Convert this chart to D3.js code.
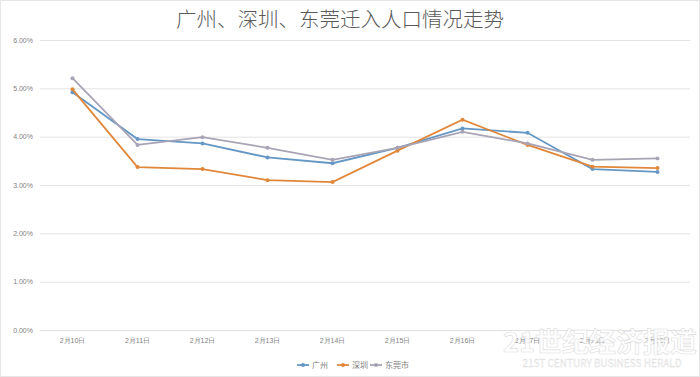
<!DOCTYPE html>
<html><head><meta charset="utf-8">
<script src="https://cdn.jsdelivr.net/npm/d3@7"></script>
<style>body{margin:0;background:#fff;}svg{display:block;font-family:"Noto Sans CJK SC","Noto Sans",sans-serif;}</style>
</head><body><svg id="c" width="700" height="377"></svg>
<script>
const categories = ["2月10日","2月11日","2月12日","2月13日","2月14日","2月15日","2月16日","2月17日","2月18日","2月19日"];
const guangzhou = [4.92,3.95,3.86,3.57,3.45,3.77,4.17,4.08,3.33,3.27];
const shenzhen  = [4.98,3.37,3.33,3.10,3.06,3.71,4.35,3.83,3.38,3.35];
const dongguan  = [5.21,3.83,3.99,3.77,3.52,3.77,4.10,3.86,3.52,3.55];
const seriesNames = ["广州","深圳","东莞市"];
const yTicks = [0,1,2,3,4,5,6];
const title = "广州、深圳、东莞迁入人口情况走势";

const colors = ["#6497c4","#e0873a","#a9a3b6"];
const series = [guangzhou, shenzhen, dongguan];
const svg = d3.select("#c");
const x = d3.scaleBand().domain(categories).range([40,690]);
const y = d3.scaleLinear().domain([0,6]).range([330,40]);

svg.append("rect").attr("x",0.5).attr("y",0.5).attr("width",699).attr("height",376).attr("fill","none").attr("stroke","#e6e6e6");

svg.append("text").attr("x",340).attr("y",27).attr("text-anchor","middle")
  .attr("font-size",20.5).attr("font-weight",300).attr("fill","#5a5a5a").text(title);

const yAxis = d3.axisLeft(y).tickValues(yTicks).tickFormat(d=>d.toFixed(2)+"%").tickSize(-650).tickPadding(7);
const gy = svg.append("g").attr("transform","translate(40,0)").call(yAxis);
gy.select(".domain").remove();
gy.selectAll(".tick line").attr("stroke","#e3e3e3");
gy.selectAll(".tick text").attr("font-size",7).attr("fill","#7f7f7f");

const xAxis = d3.axisBottom(x).tickSize(0).tickPadding(8);
const gx = svg.append("g").attr("transform","translate(0,330)").call(xAxis);
gx.select(".domain").attr("stroke","#e0e0e0");
gx.selectAll(".tick text").attr("font-size",7).attr("fill","#7f7f7f");

const line = d3.line().x((d,i)=>x(categories[i])+x.bandwidth()/2).y(d=>y(d));
series.forEach((s,k)=>{
  svg.append("path").datum(s).attr("d",line).attr("fill","none")
    .attr("stroke",colors[k]).attr("stroke-width",1.8);
  svg.append("g").selectAll("circle").data(s).join("circle")
    .attr("cx",(d,i)=>x(categories[i])+x.bandwidth()/2).attr("cy",d=>y(d))
    .attr("r",2).attr("fill",colors[k]);
});

const lx = [297,337,370];
seriesNames.forEach((n,k)=>{
  const g = svg.append("g").attr("transform",`translate(${lx[k]},365)`);
  g.append("line").attr("x1",0).attr("x2",12).attr("stroke",colors[k]).attr("stroke-width",1.8);
  g.append("circle").attr("cx",6).attr("r",2).attr("fill",colors[k]);
  g.append("text").attr("x",15).attr("y",3).attr("font-size",8).attr("fill","#7f7f7f").text(n);
});

svg.append("text").attr("x",600).attr("y",352).attr("text-anchor","middle")
  .attr("font-size",27).attr("font-weight","bold").attr("fill","#ffffff")
  .attr("stroke","#d8d8d8").attr("stroke-width",0.6).attr("opacity",0.85).text("21世纪经济报道");
svg.append("text").attr("x",602).attr("y",367).attr("text-anchor","middle")
  .attr("font-size",10).attr("fill","#ffffff").attr("stroke","#d8d8d8").attr("stroke-width",0.4)
  .attr("opacity",0.85).text("21ST CENTURY BUSINESS HERALD");
</script></body></html>
